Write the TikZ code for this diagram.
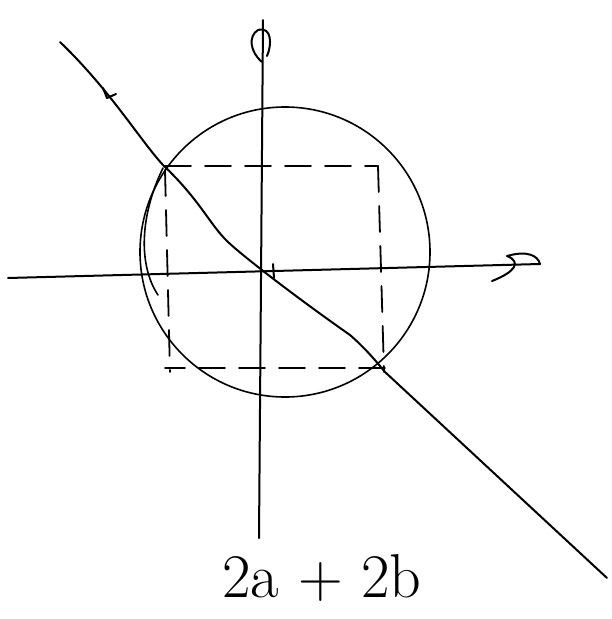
\documentclass[tikz,border=0pt]{standalone}
\usepackage{amsmath}
\begin{document}
\begin{tikzpicture}[x=1pt,y=-1pt,line width=2pt,line cap=round,line join=round,
    dashbox/.style={dash pattern=on 26pt off 14pt,line width=1.8pt}]
            \useasboundingbox (0,0) rectangle (612,619);
            \draw (8,278)--(540,264);                           % x-axis
            \draw (492,281) .. controls (515,272) and (522,262) .. (507,256)
                .. controls (528,250) and (538,256) .. (540,264);  % hand-drawn arrow on x-axis
            \draw (259,538)--(263,20);                          % y-axis
            \draw (262,62) .. controls (250,52) and (248,36) .. (258,30)
                .. controls (272,26) and (272,45) .. (267,56);  % hand-drawn arrow on y-axis
            \draw[line width=1.6pt] (285,252) ellipse (145 and 145); % circle
            \draw[line width=1.6pt] (163,168) .. controls (140,215) and (138,265) .. (158,295); % second stroke on left side
            \draw (60,42) .. controls (110,90) and (140,140) .. (163,165)
                .. controls (200,200) and (210,225) .. (228,242)
                .. controls (245,258) and (300,300) .. (350,335)
                .. controls (365,348) and (375,360) .. (385,372)
                --(607,578);                                    % diagonal line
            \draw (103,88)--(107,98)--(116,94);                 % little mark on the line
            \draw[dashbox] (165,166)--(378,166);                % dashed rectangle, top
            \draw[dashbox] (378,166)--(384,372);                % right
            \draw[dashbox] (385,368)--(165,368);                % bottom
            \draw[dashbox] (165,170)--(170,372);                % left
            \draw (273,264)--(274,278);                         % tick at origin
            \node[font=\fontsize{62}{62}\selectfont] (label) at (322,578) {2a + 2b};
        \end{tikzpicture}
\end{document}
